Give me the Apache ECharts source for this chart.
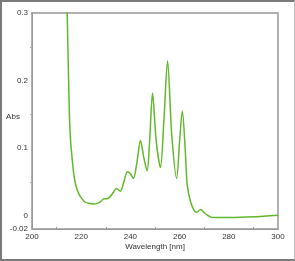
<!DOCTYPE html>
<html><head><meta charset="utf-8">
<script src="https://cdn.jsdelivr.net/npm/echarts@6/dist/echarts.min.js"></script>
<style>
html,body{margin:0;padding:0;background:#fff;}
#c{width:295px;height:261px;box-sizing:border-box;border:2px solid #7a7a7a;border-right:1px solid #bbb;}
</style></head>
<body><div id="c"></div>
<script>
const wavelength = [213.8,214.3,215.1,215.6,216.3,216.9,217.5,218.2,219.2,220.3,221.5,223,225,226.5,228,229.2,230.5,231.8,233,234.3,235.9,237.2,238.8,240,241.2,242.5,244.1,245.5,246.8,247.8,249,250.5,252.2,253.6,255.1,256.8,258.8,260,261.1,262.4,263.1,264.5,266,267,268.6,270,271.5,273.3,280,290,300];
const absorbance = [0.38,0.30,0.165,0.115,0.085,0.064,0.050,0.040,0.031,0.025,0.020,0.018,0.017,0.018,0.021,0.025,0.025,0.028,0.034,0.040,0.036,0.048,0.065,0.062,0.055,0.075,0.111,0.085,0.066,0.11,0.181,0.11,0.071,0.14,0.229,0.12,0.055,0.11,0.155,0.09,0.045,0.02,0.007,0.005,0.009,0.004,0.000,-0.003,-0.003,-0.002,0.0005];
const yTicks = [-0.02,0,0.1,0.2,0.3];
const yMinorTicks = [0.05,0.15,0.25];
const xTicks = [200,220,240,260,280,300];
const xMinorTicks = [210,230,250,270,290];

const chart = echarts.init(document.getElementById('c'));
const font = {fontFamily:'Liberation Sans, Arial, sans-serif', fontSize:8, color:'#333'};
chart.setOption({
  animation:false,
  grid:{left:30,right:16,top:11,bottom:30,show:true,borderColor:'#b0b0b0',borderWidth:2,containLabel:false,outerBoundsMode:'none'},
  xAxis:{type:'value',min:200,max:300,
    name:'Wavelength [nm]',nameLocation:'middle',nameGap:14,nameMoveOverlap:false,nameTextStyle:font,
    axisLine:{onZero:false,lineStyle:{color:'#999',width:1}},
    axisTick:{show:true,inside:true,length:2,customValues:xMinorTicks,lineStyle:{color:'#999'}},
    axisLabel:Object.assign({margin:4,customValues:xTicks,formatter:v=>String(v)},font),
    splitLine:{show:false}},
  yAxis:{type:'value',min:-0.02,max:0.3,
    name:'Abs',nameLocation:'middle',nameGap:19,nameRotate:0,nameMoveOverlap:false,
    nameTextStyle:Object.assign({align:'center',verticalAlign:'bottom'},font),
    axisLine:{show:true,onZero:false,lineStyle:{color:'#999',width:1}},
    axisTick:{show:true,inside:false,length:2,customValues:yMinorTicks,lineStyle:{color:'#aaa'}},
    axisLabel:Object.assign({margin:4,customValues:yTicks,formatter:v=>String(v)},font),
    splitLine:{show:false}},
  series:[{type:'line',data:wavelength.map((w,i)=>[w,absorbance[i]]),smooth:0.3,showSymbol:false,
    lineStyle:{color:'#62b82c',width:1.5},clip:true}]
});
</script></body></html>
